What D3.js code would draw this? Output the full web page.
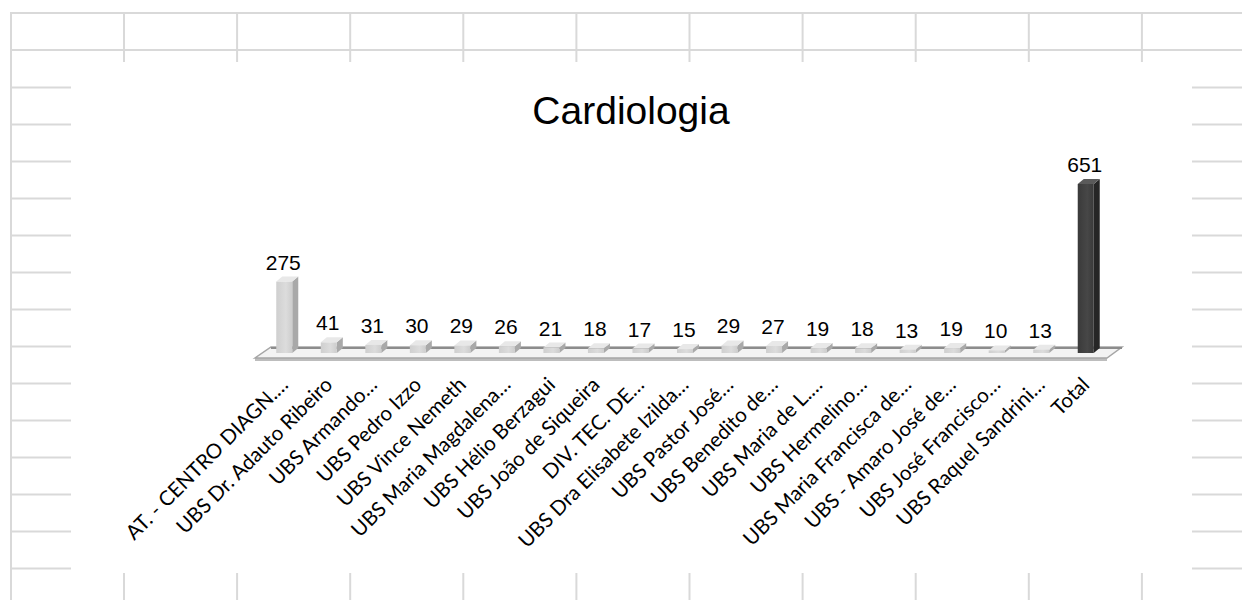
<!DOCTYPE html>
<html>
<head>
<meta charset="utf-8">
<script src="https://cdn.jsdelivr.net/npm/d3@7"></script>
<style>
  body { margin: 0; background: #fff; }
  .title { font-family: "Liberation Sans", Arial, sans-serif; font-size: 39px; fill: #000; }
  .value { font-family: "Liberation Sans", Arial, sans-serif; font-size: 21px; fill: #000; }
  .cat { font-family: Lato, "Open Sans", sans-serif; font-size: 20.5px; fill: #000; }
</style>
</head>
<body>
<div id="chart"></div>
<script>
// chart data
var categories = [
    "AT. - CENTRO DIAGN.…", "UBS Dr. Adauto Ribeiro", "UBS Armando…", "UBS Pedro Izzo",
    "UBS Vince Nemeth", "UBS Maria Magdalena…", "UBS Hélio Berzagui", "UBS João de Siqueira",
    "DIV. TEC. DE…", "UBS Dra Elisabete Izilda…", "UBS Pastor José…", "UBS Benedito de…",
    "UBS Maria de L.…", "UBS Hermelino…", "UBS Maria Francisca de…", "UBS - Amaro José de…",
    "UBS José Francisco…", "UBS Raquel Sandrini…", "Total"
];
var values = [275, 41, 31, 30, 29, 26, 21, 18, 17, 15, 29, 27, 19, 18, 13, 19, 10, 13, 651];
var title = "Cardiologia";

var width = 1242, height = 600;

var svg = d3.select("#chart").append("svg")
    .attr("width", width)
    .attr("height", height);

// spreadsheet grid behind the chart
var gridColor = "#d9d9d9";
var grid = svg.append("g").attr("stroke", gridColor).attr("stroke-width", 2);
[13, 50].forEach(function(y) {
    grid.append("line").attr("x1", 10).attr("x2", width).attr("y1", y).attr("y2", y);
});
grid.append("line").attr("x1", 11).attr("x2", 11).attr("y1", 12).attr("y2", height);
d3.range(10).forEach(function(i) {
    var x = 124 + i * 113.1;
    grid.append("line").attr("x1", x).attr("x2", x).attr("y1", 12).attr("y2", 62);
    grid.append("line").attr("x1", x).attr("x2", x).attr("y1", 573).attr("y2", height);
});
d3.range(14).forEach(function(i) {
    var y = 87.5 + i * 37;
    grid.append("line").attr("x1", 10).attr("x2", 71).attr("y1", y).attr("y2", y);
    grid.append("line").attr("x1", 1192).attr("x2", width).attr("y1", y).attr("y2", y);
});

svg.append("text")
    .attr("class", "title")
    .attr("x", 631)
    .attr("y", 124)
    .style("text-anchor", "middle")
    .text(title);

// scales
var x = d3.scaleBand()
    .domain(categories)
    .range([262, 1108]);
var y = d3.scaleLinear()
    .domain([0, 651])
    .range([353, 184]);

var barW = 16, dx = 6, dy = -5;

// floor of the 3d chart
var floorFront = 358, floorBack = 347;
svg.append("path")
    .attr("d", "M255," + (floorFront + 3) + "L1107," + (floorFront + 3) + "L1107," + floorFront + "L255," + floorFront + "Z")
    .attr("fill", "#bdbdbd");
svg.append("path")
    .attr("d", "M255," + floorFront + "L1107," + floorFront + "L1122," + floorBack + "L271," + floorBack + "Z")
    .attr("fill", "#f3f3f3")
    .attr("stroke", "#a6a6a6")
    .attr("stroke-width", 1.5);
svg.append("line")
    .attr("x1", 271).attr("x2", 1122)
    .attr("y1", floorBack + 1).attr("y2", floorBack + 1)
    .attr("stroke", "#8c8c8c").attr("stroke-width", 2);

var defs = svg.append("defs");
var lg = defs.append("linearGradient").attr("id", "lightFront");
lg.append("stop").attr("offset", "0%").attr("stop-color", "#cfcfcf");
lg.append("stop").attr("offset", "60%").attr("stop-color", "#dcdcdc");
lg.append("stop").attr("offset", "100%").attr("stop-color", "#cdcdcd");
var dg = defs.append("linearGradient").attr("id", "darkFront");
dg.append("stop").attr("offset", "0%").attr("stop-color", "#3a3a3a");
dg.append("stop").attr("offset", "60%").attr("stop-color", "#474747");
dg.append("stop").attr("offset", "100%").attr("stop-color", "#3a3a3a");

var bars = svg.selectAll(".bar")
    .data(values)
    .enter().append("g")
    .attr("class", "bar");

function bx(d, i) { return x(categories[i]) + x.bandwidth() / 2 - barW / 2; }
function isTotal(i) { return categories[i] === "Total"; }

// side face
bars.append("path")
    .attr("d", function(d, i) {
        var x0 = bx(d, i) + barW, t = y(d), b = y(0);
        return "M" + x0 + "," + t + "L" + (x0 + dx) + "," + (t + dy) + "L" + (x0 + dx) + "," + (b + dy) + "L" + x0 + "," + b + "Z";
    })
    .attr("fill", function(d, i) { return isTotal(i) ? "#262626" : "#a9a9a9"; });

// top face
bars.append("path")
    .attr("d", function(d, i) {
        var x0 = bx(d, i), t = y(d);
        return "M" + x0 + "," + t + "L" + (x0 + barW) + "," + t + "L" + (x0 + barW + dx) + "," + (t + dy) + "L" + (x0 + dx) + "," + (t + dy) + "Z";
    })
    .attr("fill", function(d, i) { return isTotal(i) ? "#5a5a5a" : "#e8e8e8"; });

// front face
bars.append("rect")
    .attr("x", bx)
    .attr("y", function(d) { return y(d); })
    .attr("width", barW)
    .attr("height", function(d) { return y(0) - y(d); })
    .attr("fill", function(d, i) { return isTotal(i) ? "url(#darkFront)" : "url(#lightFront)"; });

// value labels
svg.selectAll(".value")
    .data(values)
    .enter().append("text")
    .attr("class", "value")
    .attr("x", function(d, i) { return x(categories[i]) + x.bandwidth() / 2 - 1; })
    .attr("y", function(d) { return y(d) - 12; })
    .style("text-anchor", "middle")
    .text(function(d) { return d; });

// category labels, rotated
svg.selectAll(".cat")
    .data(categories)
    .enter().append("text")
    .attr("class", "cat")
    .attr("transform", function(d) {
        return "translate(" + (x(d) + x.bandwidth() / 2 + 5) + ",386) rotate(-45)";
    })
    .style("text-anchor", "end")
    .text(function(d) { return d; });
</script>
</body>
</html>
